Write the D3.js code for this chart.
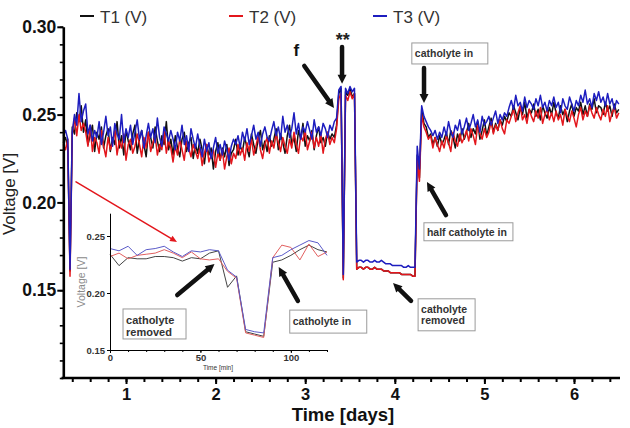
<!DOCTYPE html>
<html lang="en">
<head>
<meta charset="utf-8">
<title>Voltage vs time</title>
<script src="https://cdnjs.cloudflare.com/ajax/libs/d3/7.8.5/d3.min.js"></script>
<style>
  body { margin: 0; background: #fff; }
  svg { display: block; font-family: "Liberation Sans", Arial, sans-serif; }
</style>
</head>
<body>
<div id="chart"></div>
<script>
// readings in mV, one every 0.025 day starting at day 0.30
var startDay = 0.30, stepDay = 0.025;
var t1 = [
  234,237,231,161,243,239,251,246,255,240,
  247,233,238,244,229,240,236,243,231,238,
  242,229,237,233,246,231,238,227,241,235,
  230,239,244,228,236,241,233,226,240,237,
  231,243,235,229,238,233,246,230,236,227,
  238,231,226,236,240,229,234,237,225,233,
  228,236,230,222,233,227,231,219,229,234,
  224,231,226,233,221,228,230,236,227,232,
  229,237,231,226,239,233,228,236,241,230,
  235,229,238,232,236,242,230,239,234,228,
  238,244,233,237,229,241,236,245,232,238,
  235,241,230,238,243,234,237,232,240,236,
  239,237,244,262,265,157,263,261,265,260,
  262,162,163,163,162,163,163,162,162,163,
  162,162,162,161,161,161,160,160,160,160,
  160,159,159,159,159,159,158,158,227,214,
  253,245,243,237,239,233,237,232,238,233,
  236,240,233,241,237,231,239,235,242,236,
  240,245,237,242,239,246,236,241,247,238,
  243,248,240,245,241,247,244,249,246,251,
  249,255,251,247,254,250,257,248,253,251,
  256,249,253,247,255,251,248,254,250,257,
  251,248,255,250,253,246,252,256,249,254,
  252,257,250,255,249,256,253,259,251,255,
  254,250,257,252,255,249,256,251,253
];
var t2 = [
  233,230,236,158,239,248,238,250,241,245,
  240,232,244,229,237,234,228,241,232,226,
  237,230,234,241,227,235,231,239,224,233,
  236,228,232,239,233,226,237,231,240,229,
  234,238,227,233,230,241,228,235,231,223,
  232,227,236,230,224,235,231,226,233,229,
  225,231,221,228,233,223,227,230,220,228,
  224,230,219,226,231,222,228,225,233,227,
  231,224,234,229,236,227,232,238,230,225,
  233,237,228,235,231,239,234,229,237,232,
  228,236,231,240,233,228,238,235,241,230,
  235,240,231,237,232,239,228,236,240,233,
  237,234,242,259,262,156,261,258,263,259,
  262,162,163,163,162,163,163,162,162,163,
  162,162,162,161,161,161,160,160,160,160,
  160,159,159,159,159,159,158,158,225,212,
  250,243,240,236,238,231,237,233,229,235,
  231,238,234,229,240,235,232,239,234,237,
  241,235,242,238,233,244,239,236,242,237,
  240,246,239,244,241,247,242,239,247,245,
  249,253,246,251,255,247,250,245,253,249,
  246,252,248,254,245,250,253,247,251,246,
  252,247,250,244,253,249,246,252,248,243,
  250,254,247,252,249,255,251,248,254,250,
  247,253,249,255,246,251,254,248,251
];
var t3 = [
  238,241,236,162,240,250,244,262,246,252,
  256,239,244,235,241,237,246,233,240,249,
  238,243,232,245,239,236,250,234,242,237,
  244,233,240,247,236,241,231,238,245,237,
  242,234,248,237,232,243,239,235,241,236,
  230,240,235,244,233,238,229,242,236,231,
  239,232,226,236,229,234,225,231,237,228,
  233,227,235,230,224,232,236,233,238,231,
  240,235,242,233,238,244,236,240,232,239,
  243,237,235,241,246,238,243,236,249,240,
  244,237,242,251,239,245,236,243,240,246,
  241,236,247,240,243,238,245,242,237,244,
  241,246,248,264,266,159,265,262,266,263,
  265,166,167,167,166,167,167,166,166,167,
  166,166,167,166,165,165,165,164,164,164,
  164,164,163,163,164,163,163,163,232,219,
  255,249,246,243,241,238,241,236,240,237,
  243,238,246,240,237,244,241,247,239,243,
  248,241,245,250,243,247,240,249,244,246,
  249,244,248,252,245,250,247,251,249,254,
  258,253,261,255,257,252,260,254,258,256,
  253,259,255,261,254,257,252,258,255,260,
  254,257,251,259,255,253,260,256,252,258,
  255,261,257,264,256,259,254,262,258,263,
  257,260,255,262,256,259,253,258,256
];
var seriesNames = ["T1 (V)", "T2 (V)", "T3 (V)"];
var seriesColors = ["#111111", "#e3161c", "#1d1dbf"];
var xTicks = [1, 2, 3, 4, 5, 6];
var yTicks = [0.15, 0.20, 0.25, 0.30];

// inset: first two hours, in V
var insetMin = [0,5,10,15,20,25,30,35,40,45,50,55,60,65,70,75,80,85,90,95,100,105,110,115,120];
var insetT1 = [0.234,0.224,0.231,0.230,0.230,0.232,0.232,0.231,0.228,0.231,0.230,0.235,0.237,0.205,0.215,0.166,0.164,0.162,0.227,0.229,0.233,0.238,0.242,0.238,0.236];
var insetT2 = [0.232,0.235,0.230,0.233,0.234,0.235,0.238,0.235,0.231,0.236,0.230,0.229,0.230,0.219,0.213,0.165,0.163,0.161,0.231,0.242,0.240,0.229,0.243,0.232,0.236];
var insetT3 = [0.239,0.237,0.241,0.233,0.238,0.239,0.241,0.236,0.232,0.237,0.236,0.238,0.237,0.220,0.214,0.168,0.166,0.165,0.231,0.233,0.238,0.242,0.246,0.244,0.233];
var insetXTicks = [0, 50, 100];
var insetYTicks = [0.15, 0.20, 0.25];

var w = 630, h = 428;
var svg = d3.select("#chart").append("svg")
            .attr("width", w)
            .attr("height", h);

var x = d3.scaleLinear().domain([0.3, 6.5]).range([63.3, 618.8]);
var y = d3.scaleLinear().domain([0.10, 0.30]).range([378, 26.8]);

// traces
var line = d3.line()
             .x(function(d, i){ return x(startDay + i * stepDay); })
             .y(function(d){ return y(d / 1000); });
[t1, t2, t3].forEach(function(s, k){
    svg.append("path")
       .attr("d", line(s))
       .attr("fill", "none")
       .attr("stroke", seriesColors[k])
       .attr("stroke-width", 1.5)
       .attr("stroke-linejoin", "round");
});

// axes
function styleAxis(g, size, bold){
    g.attr("font-family", null).attr("font-size", size)
     .attr("font-weight", bold ? "bold" : null);
    g.selectAll("text").attr("fill", "#111");
}
var yMinor = svg.append("g")
   .attr("transform", "translate(63.3,0)")
   .call(d3.axisLeft(y).tickValues(d3.range(10, 31).map(function(v){ return v / 100; }))
          .tickFormat("").tickSize(3.5).tickSizeOuter(0));
yMinor.select(".domain").remove();
yMinor.selectAll("line").attr("stroke-width", 1.6);
var yAxis = svg.append("g")
   .attr("transform", "translate(63.3,0)")
   .call(d3.axisLeft(y).tickValues(yTicks).tickFormat(d3.format(".2f"))
          .tickSize(6).tickPadding(1).tickSizeOuter(0));
yAxis.select(".domain").attr("stroke-width", 2.6);
yAxis.selectAll("line").attr("stroke-width", 2);
styleAxis(yAxis, 17.5, true);

var xMinor = svg.append("g")
   .attr("transform", "translate(0,378)")
   .call(d3.axisBottom(x).tickValues(d3.range(2, 33).map(function(v){ return v / 5; }))
          .tickFormat("").tickSize(4).tickSizeOuter(0));
xMinor.select(".domain").remove();
xMinor.selectAll("line").attr("stroke-width", 2);
var xAxis = svg.append("g")
   .attr("transform", "translate(0,378)")
   .call(d3.axisBottom(x).tickValues(xTicks).tickFormat(d3.format("d"))
          .tickSize(6).tickPadding(4).tickSizeOuter(0));
xAxis.select(".domain").attr("stroke-width", 2.6)
     .attr("d", "M61.5,0H620");
xAxis.selectAll("line").attr("stroke-width", 2);
styleAxis(xAxis, 16.5, true);

svg.append("text")
   .attr("x", 343).attr("y", 421)
   .attr("text-anchor", "middle")
   .attr("font-size", 18.5).attr("font-weight", "bold").attr("fill", "#111")
   .text("Time [days]");
svg.append("text")
   .attr("transform", "translate(14.5,194) rotate(-90)")
   .attr("text-anchor", "middle")
   .attr("font-size", 17).attr("fill", "#222")
   .text("Voltage [V]");

// legend
var legendX = [80, 229, 373];
seriesNames.forEach(function(n, k){
    svg.append("line")
       .attr("x1", legendX[k]).attr("x2", legendX[k] + 14)
       .attr("y1", 16).attr("y2", 16)
       .attr("stroke", seriesColors[k]).attr("stroke-width", 2);
    svg.append("text")
       .attr("x", legendX[k] + 20).attr("y", 22.5)
       .attr("font-size", 17).attr("fill", "#333")
       .text(n);
});

// annotation helpers
function arrow(g, x1, y1, x2, y2, color, sw, hw, hl){
    var dx = x2 - x1, dy = y2 - y1, len = Math.sqrt(dx * dx + dy * dy);
    var ux = dx / len, uy = dy / len, px = -uy, py = ux;
    var bx = x2 - ux * hl, by = y2 - uy * hl;
    g.append("line")
     .attr("x1", x1).attr("y1", y1).attr("x2", bx).attr("y2", by)
     .attr("stroke", color).attr("stroke-width", sw).attr("stroke-linecap", "round");
    g.append("path")
     .attr("d", "M" + x2 + "," + y2 + "L" + (bx + px * hw) + "," + (by + py * hw) +
                "L" + (bx - px * hw) + "," + (by - py * hw) + "Z")
     .attr("fill", color);
}
function box(g, bx, by, bw, bh, lines, fs){
    g.append("rect")
     .attr("x", bx).attr("y", by).attr("width", bw).attr("height", bh)
     .attr("fill", "#fff").attr("stroke", "#9a9a9a").attr("stroke-width", 1);
    lines.forEach(function(t, i){
        g.append("text")
         .attr("x", bx + 3).attr("y", by + (lines.length == 1 ? bh / 2 + fs * 0.36 : 4 + fs * (i + 0.9) * 1.08))
         .attr("font-size", fs).attr("font-weight", "bold").attr("fill", "#333")
         .text(t);
    });
}

var ann = svg.append("g");
ann.append("text").attr("x", x(2.87)).attr("y", y(0.2835))
   .attr("font-size", 17).attr("font-weight", "bold").attr("fill", "#111").text("f");
ann.append("text").attr("x", x(3.42)).attr("y", y(0.2888))
   .attr("text-anchor", "middle")
   .attr("font-size", 18).attr("font-weight", "bold").attr("fill", "#222").text("**");
arrow(ann, x(2.99), y(0.2777), x(3.321), y(0.2538), "#111", 4.5, 4.5, 9);
arrow(ann, x(3.411), y(0.2885), x(3.411), y(0.2675), "#111", 4.5, 4.5, 9);
arrow(ann, x(4.326), y(0.2765), x(4.326), y(0.2566), "#111", 4.5, 4.5, 9);
arrow(ann, x(4.571), y(0.1928), x(4.359), y(0.2116), "#111", 4.5, 4.5, 9);
arrow(ann, x(4.181), y(0.1439), x(3.980), y(0.1541), "#111", 4.5, 4.5, 9);
box(ann, x(4.19), y(0.2908), 76, 21, ["catholyte in"], 10.5);
box(ann, x(4.325), y(0.1884), 89, 18, ["half catholyte in"], 10.5);
box(ann, x(4.26), y(0.1451), 57, 32, ["catholyte", "removed"], 10.5);
// red pointer to inset
arrow(ann, x(0.442), y(0.2117), x(1.569), y(0.1775), "#e3161c", 1.5, 3, 7);

// inset
var ix = d3.scaleLinear().domain([0, 120]).range([110, 327]);
var iy = d3.scaleLinear().domain([0.15, 0.27]).range([350, 213.2]);
var inset = svg.append("g");
var iLine = d3.line()
              .x(function(d, i){ return ix(insetMin[i]); })
              .y(function(d){ return iy(d); });
var insetColors = ["#444444", "#e26060", "#5a5ac8"];
[insetT1, insetT2, insetT3].forEach(function(s, k){
    inset.append("path")
         .attr("d", iLine(s))
         .attr("fill", "none")
         .attr("stroke", insetColors[k])
         .attr("stroke-width", 1);
});
var iyAxis = inset.append("g")
   .attr("transform", "translate(110,0)")
   .call(d3.axisLeft(iy).tickValues(insetYTicks).tickFormat(d3.format(".2f"))
          .tickSize(3).tickPadding(2).tickSizeOuter(0));
styleAxis(iyAxis, 9.5, true);
iyAxis.selectAll("text").attr("fill", "#333");
var ixMinor = inset.append("g")
   .attr("transform", "translate(0,350)")
   .call(d3.axisBottom(ix).tickValues(d3.range(0, 121, 10)).tickFormat("").tickSize(2).tickSizeOuter(0));
ixMinor.select(".domain").remove();
var ixAxis = inset.append("g")
   .attr("transform", "translate(0,350)")
   .call(d3.axisBottom(ix).tickValues(insetXTicks).tickFormat(d3.format("d"))
          .tickSize(3).tickPadding(1).tickSizeOuter(0));
styleAxis(ixAxis, 9.5, true);
ixAxis.selectAll("text").attr("fill", "#333");
inset.append("text")
     .attr("transform", "translate(85,282) rotate(-90)")
     .attr("text-anchor", "middle")
     .attr("font-size", 10.5).attr("fill", "#8a8a8a")
     .text("Voltage [V]");
inset.append("text")
     .attr("x", 218).attr("y", 370)
     .attr("text-anchor", "middle")
     .attr("font-size", 6.5).attr("fill", "#333")
     .text("Time [min]");
arrow(inset, ix(37.2), iy(0.1982), ix(57.8), iy(0.2254), "#111", 4.5, 4.5, 9);
arrow(inset, ix(103.9), iy(0.193), ix(93.3), iy(0.2228), "#111", 4.5, 4.5, 9);
box(inset, ix(7.2), iy(0.186), 63, 30, ["catholyte", "removed"], 11);
box(inset, ix(99.4), iy(0.185), 77, 23, ["catholyte in"], 10.5);
</script>
</body>
</html>
